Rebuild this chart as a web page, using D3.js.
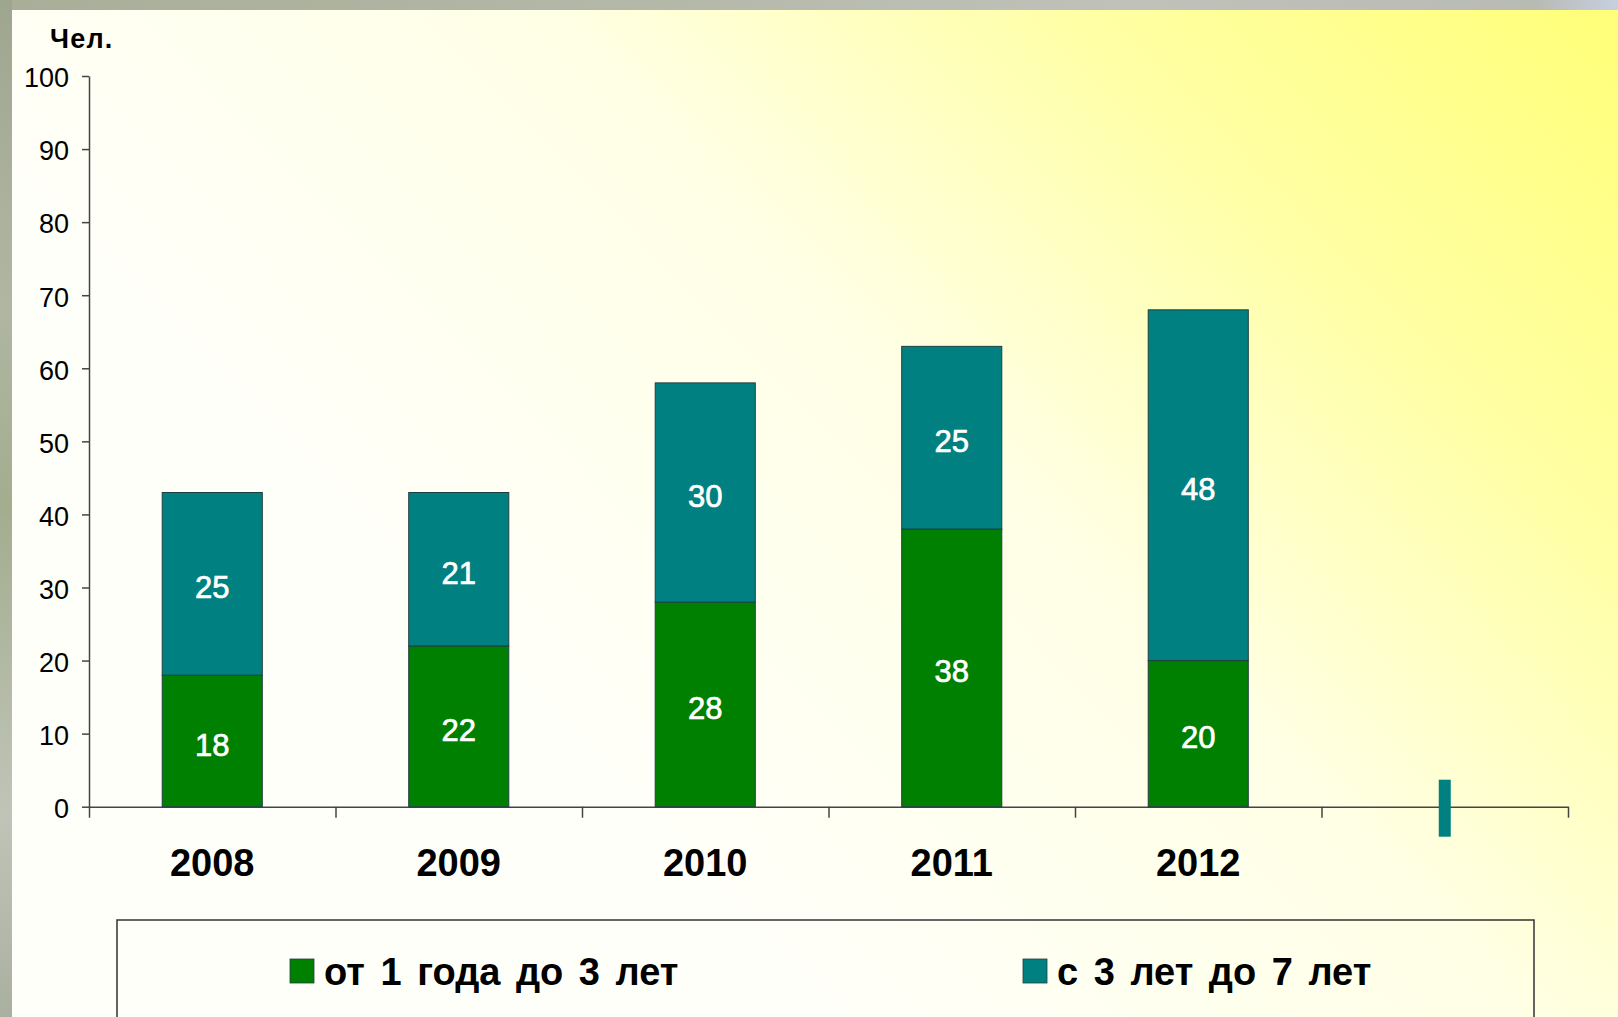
<!DOCTYPE html>
<html>
<head>
<meta charset="utf-8">
<script src="https://cdn.jsdelivr.net/npm/d3@7"></script>
<style>
  html, body { margin: 0; padding: 0; background: #a9ae9c; }
  svg { display: block; }
</style>
</head>
<body>
<svg id="chart" width="1618" height="1017"></svg>
<script>
// ---- data ----
const categories = ["2008", "2009", "2010", "2011", "2012", ""];
const seriesNames = ["от 1 года до 3 лет", "с 3 лет до 7 лет"];
const series1 = [18, 22, 28, 38, 20];   // от 1 года до 3 лет
const series2 = [25, 21, 30, 25, 48];   // с 3 лет до 7 лет
const yTicks = [0, 10, 20, 30, 40, 50, 60, 70, 80, 90, 100];
const yLabel = "Чел.";
const colors = ["#008000", "#008080"];

const W = 1618, H = 1017;
const svg = d3.select("#chart");
const font = "'Liberation Sans', Arial, sans-serif";

// ---- background ----
const defs = svg.append("defs");
const grad = defs.append("linearGradient").attr("id", "bg")
  .attr("gradientUnits", "userSpaceOnUse")
  .attr("x1", 1618).attr("y1", 0).attr("x2", 700).attr("y2", 900);
[[0, "#ffff78"], [0.3, "#ffffa4"], [0.6, "#ffffe6"], [1, "#fffffa"]].forEach(([o, c]) =>
  grad.append("stop").attr("offset", o).attr("stop-color", c));

const tex = defs.append("linearGradient").attr("id", "leftstrip").attr("x1", 0).attr("y1", 0).attr("x2", 0).attr("y2", 1);
[[0, "#9fa690"], [0.3, "#b0b6a2"], [0.5, "#a3ad8e"], [0.8, "#c0c4b8"], [1, "#aab0a0"]].forEach(([o, c]) =>
  tex.append("stop").attr("offset", o).attr("stop-color", c));
const topTex = defs.append("linearGradient").attr("id", "topstrip").attr("x1", 0).attr("y1", 0).attr("x2", 1).attr("y2", 0);
[[0, "#a8ae98"], [0.4, "#b4b8a8"], [0.7, "#c0c2ba"], [0.95, "#b8bab4"], [1, "#c8d0e0"]].forEach(([o, c]) =>
  topTex.append("stop").attr("offset", o).attr("stop-color", c));

svg.append("rect").attr("x", 0).attr("y", 0).attr("width", W).attr("height", 10).attr("fill", "url(#topstrip)");
svg.append("rect").attr("x", 0).attr("y", 0).attr("width", 12).attr("height", H).attr("fill", "url(#leftstrip)");
svg.append("rect").attr("x", 12).attr("y", 10).attr("width", W - 12).attr("height", H - 10).attr("fill", "url(#bg)");

// ---- scales ----
const x0 = 89, x1 = 1568, yBottom = 806.7, yTop = 76;
const x = d3.scaleBand().domain(categories).range([x0, x1]).paddingInner(0.594).paddingOuter(0.297);
const y = d3.scaleLinear().domain([0, 100]).range([yBottom, yTop]);
const xEdges = d3.scaleLinear().domain([0, categories.length]).range([x0, x1]);

// ---- axes ----
const yAxis = svg.append("g").attr("transform", `translate(${x0},0)`)
  .call(d3.axisLeft(y).tickValues(yTicks).tickSize(7).tickPadding(13).tickSizeOuter(0));
yAxis.select(".domain").attr("stroke", "#444").attr("stroke-width", 1.5);
yAxis.selectAll(".tick line").attr("stroke", "#444").attr("stroke-width", 1.5);
yAxis.selectAll(".tick text").attr("font-family", font).attr("font-size", 27).attr("fill", "#000")
  .attr("dy", "0.40em");

const xAxis = svg.append("g").attr("transform", `translate(0,${yBottom})`)
  .call(d3.axisBottom(xEdges).tickValues(d3.range(categories.length + 1)).tickSize(11).tickSizeOuter(0).tickFormat(""));
xAxis.select(".domain").attr("stroke", "#444").attr("stroke-width", 1.5);
xAxis.selectAll(".tick line").attr("stroke", "#444").attr("stroke-width", 1.5);

svg.selectAll(".year").data(categories.filter(c => c !== "")).join("text")
  .attr("class", "year")
  .attr("x", d => x(d) + x.bandwidth() / 2)
  .attr("y", 876)
  .attr("text-anchor", "middle")
  .attr("font-family", font).attr("font-weight", "bold").attr("font-size", 38)
  .text(d => d);

svg.append("text").attr("x", 50).attr("y", 48)
  .attr("font-family", font).attr("font-weight", "bold").attr("font-size", 27)
  .attr("letter-spacing", 1.2)
  .text(yLabel);

// ---- bars ----
const rows = categories.filter(c => c !== "").map((c, i) => ({ cat: c, a: series1[i], b: series2[i] }));
const stack = d3.stack().keys(["a", "b"])(rows);

stack.forEach((layer, li) => {
  const g = svg.append("g");
  g.selectAll("rect").data(layer).join("rect")
    .attr("x", d => x(d.data.cat))
    .attr("y", d => y(d[1]))
    .attr("width", x.bandwidth())
    .attr("height", d => y(d[0]) - y(d[1]))
    .attr("fill", colors[li])
    .attr("stroke", "#1f3f3f").attr("stroke-width", 1);
  g.selectAll("text").data(layer).join("text")
    .attr("x", d => x(d.data.cat) + x.bandwidth() / 2)
    .attr("y", d => (y(d[0]) + y(d[1])) / 2)
    .attr("dy", "0.47em")
    .attr("text-anchor", "middle")
    .attr("font-family", font).attr("font-size", 31)
    .attr("fill", "#fff").attr("stroke", "#fff").attr("stroke-width", 0.7)
    .text(d => d[1] - d[0]);
});

// teal marker in the empty category
svg.append("rect")
  .attr("x", x("") + x.bandwidth() / 2 - 6)
  .attr("y", yBottom - 27)
  .attr("width", 12).attr("height", 57)
  .attr("fill", colors[1]);

// ---- legend ----
svg.append("rect").attr("x", 117).attr("y", 920).attr("width", 1417).attr("height", 140)
  .attr("fill", "none").attr("stroke", "#333").attr("stroke-width", 1.5);
const legendPos = [290, 1023];
seriesNames.forEach((name, i) => {
  svg.append("rect").attr("x", legendPos[i]).attr("y", 959).attr("width", 24).attr("height", 24)
    .attr("fill", colors[i]).attr("stroke", "#1f3f3f").attr("stroke-width", 0.8);
  svg.append("text").attr("x", legendPos[i] + 34).attr("y", 985)
    .attr("font-family", font).attr("font-weight", "bold").attr("font-size", 38)
    .attr("word-spacing", 5)
    .text(name);
});
</script>
</body>
</html>
